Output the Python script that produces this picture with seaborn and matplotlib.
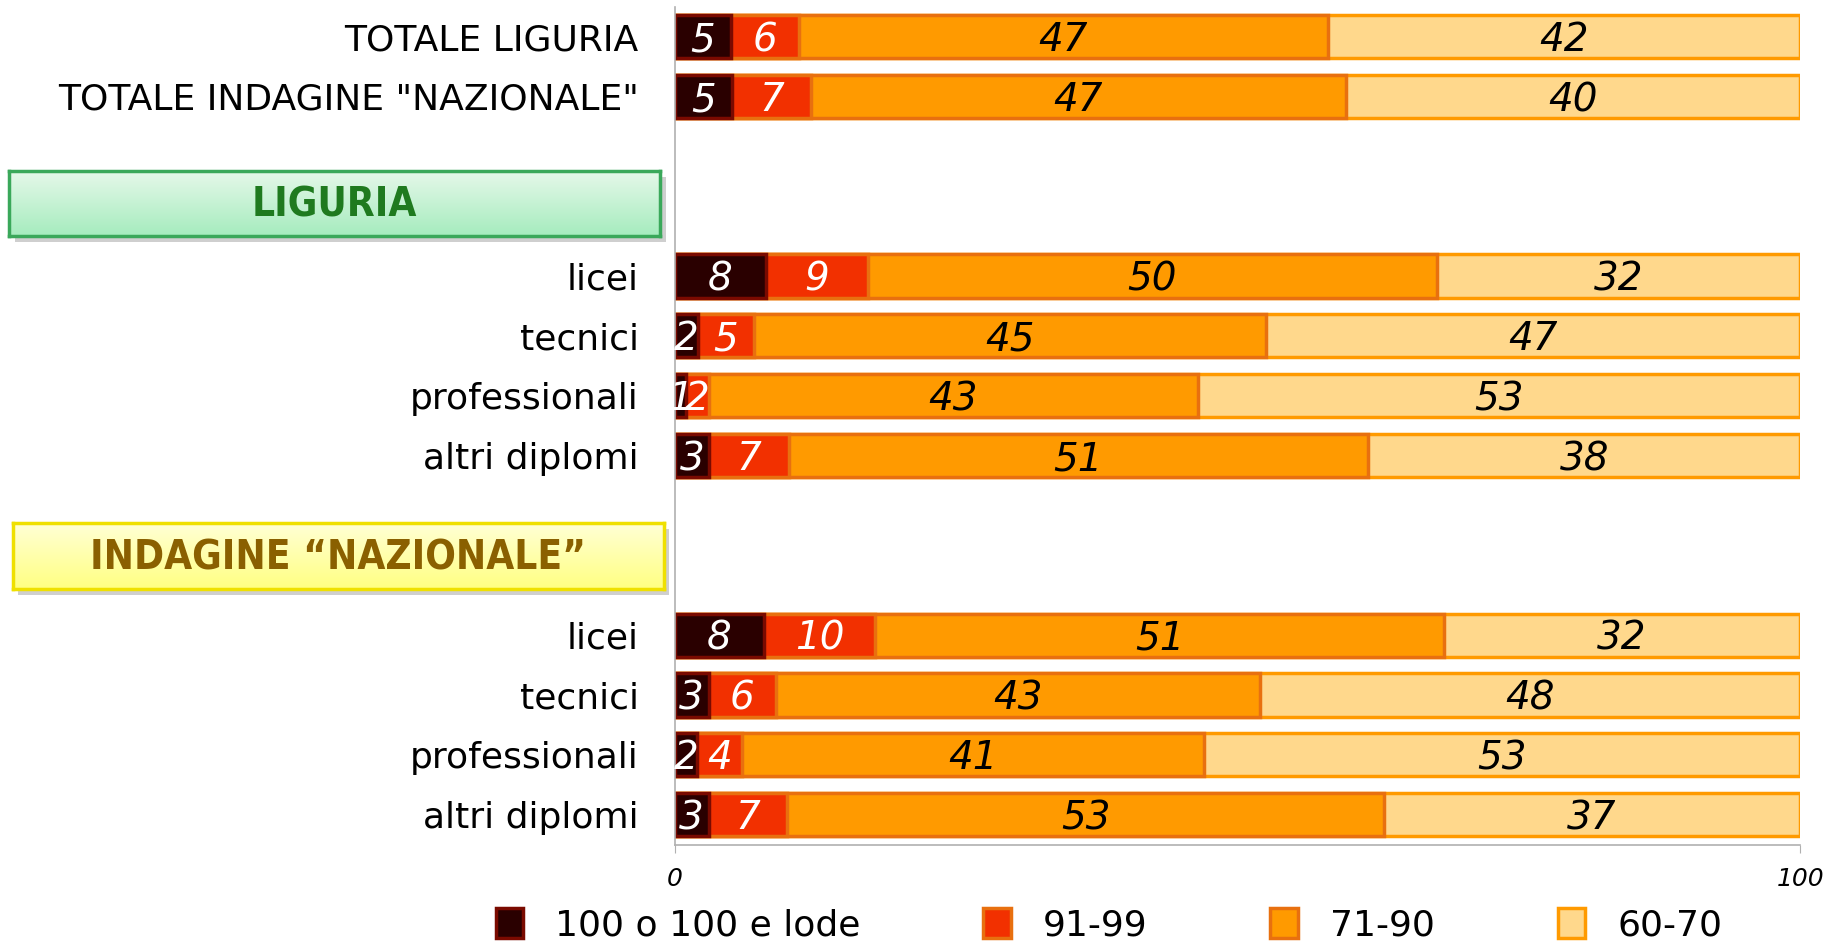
import numpy as np
import pandas as pd
import matplotlib.pyplot as plt
import seaborn as sns
from matplotlib.patches import Patch, Rectangle
from matplotlib.colors import LinearSegmentedColormap

# rows of the chart, top to bottom (blank rows hold the two section boxes)
keys = ["TL", "TN", "gap1", "gap2", "L_licei", "L_tecnici", "L_prof", "L_altri",
        "gap3", "gap4", "N_licei", "N_tecnici", "N_prof", "N_altri"]
row_labels = ["TOTALE LIGURIA", 'TOTALE INDAGINE "NAZIONALE"', "", "",
              "licei", "tecnici", "professionali", "altri diplomi", "", "",
              "licei", "tecnici", "professionali", "altri diplomi"]

data_keys = ["TL", "TN", "L_licei", "L_tecnici", "L_prof", "L_altri",
             "N_licei", "N_tecnici", "N_prof", "N_altri"]
lode = [5, 5, 8, 2, 1, 3, 8, 3, 2, 3]
v91_99 = [6, 7, 9, 5, 2, 7, 10, 6, 4, 7]
v71_90 = [47, 47, 50, 45, 43, 51, 51, 43, 41, 53]
v60_70 = [42, 40, 32, 47, 53, 38, 32, 48, 53, 37]

series = ["100 o 100 e lode", "91-99", "71-90", "60-70"]
colors = ["#2a0000", "#f23000", "#ff9a00", "#ffd88c"]
edges = ["#7a0a00", "#e8700f", "#e8700f", "#ff9a00"]
text_colors = ["white", "white", "black", "black"]

df = pd.DataFrame({"key": data_keys, series[0]: lode, series[1]: v91_99,
                   series[2]: v71_90, series[3]: v60_70})
# bars are drawn as 100% stacked
vals = df[series].div(df[series].sum(axis=1), axis=0) * 100
cum = vals.cumsum(axis=1)

fig = plt.figure(figsize=(18.24, 9.49), dpi=100)
ax = fig.add_axes([0.37, 0.11, 0.617, 0.883])

# draw cumulative bars from the widest down so that each segment shows
for i in range(3, -1, -1):
    sns.barplot(x=cum[series[i]], y=df["key"], order=keys, orient="h",
                color=colors[i], edgecolor=edges[i], linewidth=2.5,
                width=0.72, saturation=1, ax=ax)

# value labels
pos = {k: keys.index(k) for k in data_keys}
for r, k in enumerate(data_keys):
    for i, s in enumerate(series):
        left = cum[s].iloc[r] - vals[s].iloc[r]
        ax.text(left + vals[s].iloc[r] / 2, pos[k] + 0.06, str(df[s].iloc[r]),
                ha="center", va="center", fontsize=28, style="italic",
                color=text_colors[i])

ax.set_xlim(0, 100)
ax.set_ylim(13.5, -0.5)
ax.set_xticks([0, 100])
ax.set_xticklabels(["0", "100"], fontsize=18, style="italic")
ax.set_yticks(range(len(keys)))
ax.set_yticklabels(row_labels, fontsize=26)
ax.tick_params(axis="y", length=0, pad=26)
ax.tick_params(axis="x", length=6, color="#b0b0b0", pad=10)
ax.set_xlabel("")
ax.set_ylabel("")
for side in ["top", "right"]:
    ax.spines[side].set_visible(False)
for side in ["left", "bottom"]:
    ax.spines[side].set_color("#b0b0b0")
    ax.spines[side].set_linewidth(1.2)


def section_box(x0, y0, w, h, top, bottom, border, txt, txt_color):
    # drop shadow behind the box
    fig.patches.append(Rectangle((x0 + 0.003, y0 - 0.006), w, h, transform=fig.transFigure,
                                 facecolor="#cfcfcf", edgecolor="none", zorder=-5))
    bax = fig.add_axes([x0, y0, w, h])
    bax.set_zorder(5)
    grad = np.linspace(0, 1, 64)[:, None]
    cmap = LinearSegmentedColormap.from_list("g", [top, bottom])
    bax.imshow(grad, aspect="auto", cmap=cmap, extent=[0, 1, 0, 1], origin="upper")
    bax.set_xticks([])
    bax.set_yticks([])
    for sp in bax.spines.values():
        sp.set_color(border)
        sp.set_linewidth(2.5)
    bax.text(0.5, 0.47, txt, ha="center", va="center", fontsize=29, fontweight="bold",
             fontstretch="condensed", color=txt_color,
             family=["DejaVu Sans Condensed", "DejaVu Sans"], transform=bax.transAxes)


section_box(0.005, 0.751, 0.357, 0.069, "#e6f8ea", "#a6ecbe", "#3aa85a",
            "LIGURIA", "#1f7a1f")
section_box(0.007, 0.379, 0.357, 0.070, "#ffffd6", "#ffff82", "#efe000",
            "INDAGINE \u201cNAZIONALE\u201d", "#8a6000")

handles = [Patch(facecolor=colors[i], edgecolor=edges[i], linewidth=2.5, label=series[i])
           for i in range(4)]
fig.legend(handles=handles, loc="center", bbox_to_anchor=(0.608, 0.025), ncol=4,
           frameon=False, fontsize=26, handlelength=0.75, handleheight=0.9,
           handletextpad=0.9, columnspacing=3.4)

fig.savefig("out.png", dpi=100)
